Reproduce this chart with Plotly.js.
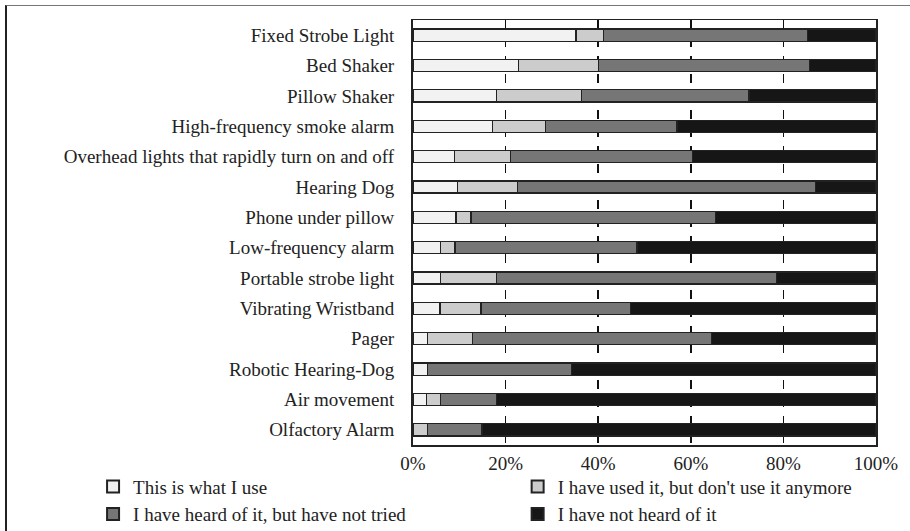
<!DOCTYPE html>
<html>
<head>
<meta charset="utf-8">
<script src="https://cdn.plot.ly/plotly-3.0.1.min.js"></script>
<style>
  html, body { margin: 0; padding: 0; background: #fff; }
  #frame { position: absolute; left: 5px; top: 5px; width: 920px; height: 540px;
           border-top: 1.5px solid #777; border-left: 2px solid #222; pointer-events: none; }
  #chart { position: absolute; left: 0; top: 0; width: 910px; height: 531px; }
</style>
</head>
<body>
<div id="chart"></div>
<div id="frame"></div>
<script>
const categories = [
  "Fixed Strobe Light",
  "Bed Shaker",
  "Pillow Shaker",
  "High-frequency smoke alarm",
  "Overhead lights that rapidly turn on and off",
  "Hearing Dog",
  "Phone under pillow",
  "Low-frequency alarm",
  "Portable strobe light",
  "Vibrating Wristband",
  "Pager",
  "Robotic Hearing-Dog",
  "Air movement",
  "Olfactory Alarm"
];
const seriesNames = [
  "This is what I use",
  "I have used it, but don't use it anymore",
  "I have heard of it, but have not tried",
  "I have not heard of it"
];
const useIt     = [35.2, 22.8, 18.1, 17.1,  9.0,  9.6,  9.3,  6.0,  6.0,  5.8,  3.2,  3.1,  2.9,  0.0];
const usedIt    = [ 5.9, 17.2, 18.3, 11.5, 12.1, 13.0,  3.2,  3.1, 12.1,  8.9,  9.7,  0.0,  3.1,  3.1];
const heardOfIt = [44.1, 45.6, 36.2, 28.4, 39.3, 64.4, 52.9, 39.3, 60.4, 32.2, 51.5, 31.2, 12.1, 11.8];
const notHeard  = [14.8, 14.4, 27.4, 43.0, 39.6, 13.0, 34.6, 51.6, 21.5, 53.1, 35.6, 65.7, 81.9, 85.1];
const tickVals = [0, 20, 40, 60, 80, 100];
const tickText = ["0%", "20%", "40%", "60%", "80%", "100%"];

const colors = ["#f2f2f2", "#cccccc", "#767676", "#161616"];
const values = [useIt, usedIt, heardOfIt, notHeard];
const legendOf = ["legend", "legend2", "legend", "legend2"];

const traces = values.map((v, i) => ({
  type: "bar",
  orientation: "h",
  name: seriesNames[i],
  x: v,
  y: categories,
  legend: legendOf[i],
  marker: { color: colors[i], line: { color: "#222", width: 1.3 } },
  hoverinfo: "x+y+name"
}));

const FS = 19;
const legendCommon = {
  orientation: "v",
  yanchor: "top",
  y: -0.053,
  xanchor: "left",
  traceorder: "normal",
  itemsizing: "constant",
  font: { size: FS, color: "#222" },
  bgcolor: "rgba(0,0,0,0)",
  borderwidth: 0,
  tracegroupgap: 0
};

const layout = {
  width: 910,
  height: 531,
  margin: { l: 413, r: 34, t: 20, b: 86, pad: 0, autoexpand: false },
  barmode: "stack",
  bargap: 0.6,
  paper_bgcolor: "#fff",
  plot_bgcolor: "#fff",
  font: { family: "Liberation Serif, Times New Roman, serif", size: FS, color: "#222" },
  xaxis: {
    range: [0, 100],
    tickvals: tickVals,
    ticktext: tickText,
    tickangle: 0,
    showgrid: true,
    gridcolor: "#111",
    griddash: "dash",
    gridwidth: 1.5,
    showline: true,
    linecolor: "#222",
    linewidth: 1.5,
    mirror: true,
    zeroline: false,
    ticks: "outside",
    ticklen: 1,
    tickcolor: "rgba(0,0,0,0)",
    tickfont: { size: FS },
    automargin: false,
    fixedrange: true
  },
  yaxis: {
    type: "category",
    categoryorder: "array",
    categoryarray: categories,
    autorange: "reversed",
    showline: true,
    linecolor: "#222",
    linewidth: 2,
    mirror: true,
    showgrid: false,
    ticks: "outside",
    ticklen: 13,
    tickcolor: "rgba(0,0,0,0)",
    tickfont: { size: FS },
    automargin: false,
    fixedrange: true
  },
  showlegend: true,
  legend: Object.assign({}, legendCommon, { x: -0.691 }),
  legend2: Object.assign({}, legendCommon, { x: 0.226 })
};

Plotly.newPlot("chart", traces, layout, { displayModeBar: false, staticPlot: true });
</script>
</body>
</html>
